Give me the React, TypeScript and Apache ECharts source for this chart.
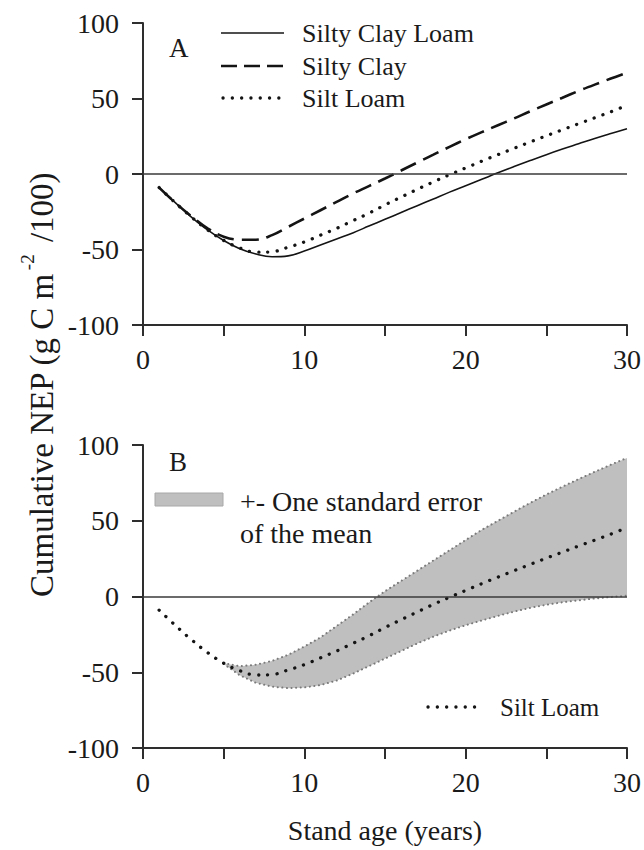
import React, { useEffect, useRef } from "react";
import * as echarts from "echarts";

const years = [1, 2, 3, 4, 5, 6, 7, 8, 9, 10, 11, 12, 13, 14, 15, 16, 17, 18, 19, 20, 21, 22, 23, 24, 25, 26, 27, 28, 29, 30];
const siltyClayLoam = [-9, -19, -28.5, -37, -44, -49.5, -53, -54.8, -54.2, -51, -47, -43, -39, -34.5, -30, -25.5, -21, -16.5, -12, -7.8, -3.5, 0.8, 4.9, 8.9, 12.8, 16.5, 20, 23.5, 26.8, 30];
const siltyClay = [-9, -19, -28, -36, -41.5, -43.5, -43.5, -40.5, -35, -29.5, -24, -18.5, -13, -8, -3, 2.3, 7.6, 12.8, 18, 23, 27.7, 32.3, 36.8, 41.5, 46, 50.5, 55, 59.2, 63.2, 67];
const siltLoam = [-9, -19, -28.5, -37, -44, -49, -51.8, -51.5, -48.5, -45, -40.5, -36, -31, -26, -20.5, -15.3, -10.2, -5.2, -0.5, 4, 8.5, 12.8, 17, 21.2, 25.3, 29.3, 33.3, 37.2, 41.2, 45.5];

const bandYears = [5, 6, 7, 8, 9, 10, 11, 12, 13, 14, 15, 16, 17, 18, 19, 20, 21, 22, 23, 24, 25, 26, 27, 28, 29, 30];
const bandUpper = [-44, -46, -45, -42.5, -38.5, -33, -27, -19.5, -12, -4, 3.5, 10.3, 17, 23.8, 30.5, 37.3, 44, 50, 56, 61.8, 67.3, 72.5, 77.5, 82.3, 87, 91.5];
const bandLower = [-44.5, -52, -57, -59.5, -60.5, -60, -58.5, -55.5, -51, -46, -41, -36, -31, -26.5, -22.5, -19, -15.8, -12.8, -10, -7.5, -5.5, -3.8, -2.5, -1.3, -0.3, 0.5];

const seriesNames = ["Silty Clay Loam", "Silty Clay", "Silt Loam"];
const bandLabel = ["+- One standard error", "of the mean"];
const panelLetters = ["A", "B"];
const xTitle = "Stand age (years)";

const FONT = "Liberation Serif";
const INK = "#141414";
const AXIS = "#2e2e2e";
const TXT = "#1a1a1a";

function pairs(xs: number[], ys: number[]) {
  return xs.map((x, i) => [x, ys[i]]);
}

function label(x: number, y: number, text: string, size: number, align = "left") {
  return {
    type: "text",
    x,
    y,
    style: { text, fontFamily: FONT, fontSize: size, fill: TXT, align, verticalAlign: "middle" },
  };
}

export default function App() {
  const ref = useRef<HTMLDivElement>(null);

  useEffect(() => {
    if (!ref.current) return;
    const chart = echarts.init(ref.current, null, { renderer: "svg" });

    const makeX = (gridIndex: number) => ({
      type: "value",
      gridIndex,
      min: 0,
      max: 30,
      interval: 5,
      axisLine: { onZero: false, lineStyle: { color: AXIS, width: 2 } },
      axisTick: { length: 11, lineStyle: { color: AXIS, width: 2 } },
      axisLabel: {
        margin: 20,
        fontFamily: FONT,
        fontSize: 28,
        color: TXT,
        formatter: (v: number) => (v % 10 === 0 ? String(v) : ""),
      },
      splitLine: { show: false },
    });
    const makeY = (gridIndex: number) => ({
      type: "value",
      gridIndex,
      min: -100,
      max: 100,
      interval: 50,
      axisLine: { show: true, onZero: false, lineStyle: { color: AXIS, width: 2 } },
      axisTick: { show: true, length: 11, lineStyle: { color: AXIS, width: 2 } },
      axisLabel: { margin: 24, fontFamily: FONT, fontSize: 28, color: TXT },
      splitLine: { show: false },
    });

    const zeroLine = {
      silent: true,
      symbol: ["none", "none"],
      label: { show: false },
      lineStyle: { color: "#3a3a3a", width: 1.6, type: "solid" },
      data: [{ yAxis: 0 }],
    };

    const dotted = { color: INK, width: 3.3, type: [0.1, 9.2], cap: "round" };

    const option: any = {
      animation: false,
      textStyle: { fontFamily: FONT },
      grid: [
        { left: 143, top: 23, width: 484, height: 302 },
        { left: 143, top: 445, width: 484, height: 303 },
      ],
      xAxis: [makeX(0), makeX(1)],
      yAxis: [makeY(0), makeY(1)],
      series: [
        {
          type: "line",
          name: seriesNames[0],
          xAxisIndex: 0,
          yAxisIndex: 0,
          data: pairs(years, siltyClayLoam),
          smooth: 0.4,
          showSymbol: false,
          lineStyle: { color: INK, width: 1.6 },
          markLine: zeroLine,
          z: 3,
        },
        {
          type: "line",
          name: seriesNames[1],
          xAxisIndex: 0,
          yAxisIndex: 0,
          data: pairs(years, siltyClay),
          smooth: 0.4,
          showSymbol: false,
          lineStyle: { color: INK, width: 2.6, type: [17, 8] },
          z: 3,
        },
        {
          type: "line",
          name: seriesNames[2],
          xAxisIndex: 0,
          yAxisIndex: 0,
          data: pairs(years, siltLoam),
          smooth: 0.4,
          showSymbol: false,
          lineStyle: dotted,
          z: 3,
        },
        {
          type: "custom",
          xAxisIndex: 1,
          yAxisIndex: 1,
          data: bandYears.map((x, i) => [x, bandUpper[i], bandLower[i]]),
          z: 1,
          renderItem: (params: any, api: any) => {
            if (params.dataIndex !== 0) return null;
            const top = bandYears.map((x, i) => api.coord([x, bandUpper[i]]));
            const bottom = bandYears
              .map((x, i) => api.coord([x, bandLower[i]]))
              .reverse();
            return {
              type: "polygon",
              shape: { points: top.concat(bottom) },
              style: { fill: "#bfbfbf", stroke: "none" },
            };
          },
        },
        {
          type: "line",
          xAxisIndex: 1,
          yAxisIndex: 1,
          data: pairs(bandYears, bandUpper),
          showSymbol: false,
          lineStyle: { color: "#7a7a7a", width: 2, type: [0.1, 4.5], cap: "round" },
          z: 2,
        },
        {
          type: "line",
          xAxisIndex: 1,
          yAxisIndex: 1,
          data: pairs(bandYears, bandLower),
          showSymbol: false,
          lineStyle: { color: "#7a7a7a", width: 2, type: [0.1, 4.5], cap: "round" },
          z: 2,
        },
        {
          type: "line",
          name: seriesNames[2],
          xAxisIndex: 1,
          yAxisIndex: 1,
          data: pairs(years, siltLoam),
          smooth: 0.4,
          showSymbol: false,
          lineStyle: dotted,
          markLine: zeroLine,
          z: 3,
        },
      ],
      graphic: [
        {
          type: "text",
          x: 38,
          y: 385,
          rotation: Math.PI / 2,
          style: {
            text: "{a|Cumulative NEP (g C m}{s|-2}{a| /100)}",
            fontFamily: FONT,
            align: "center",
            verticalAlign: "middle",
            fill: TXT,
            rich: {
              a: { fontFamily: FONT, fontSize: 33, fill: TXT, verticalAlign: "bottom", lineHeight: 40 },
              s: { fontFamily: FONT, fontSize: 19, fill: TXT, verticalAlign: "top", lineHeight: 40, padding: [0, 4, 0, 3] },
            },
          },
        },
        label(385, 830, xTitle, 28, "center"),
        label(169, 48, panelLetters[0], 27),
        label(169, 462, panelLetters[1], 27),
        // Legend A
        { type: "line", shape: { x1: 221, y1: 33, x2: 284, y2: 33 }, style: { stroke: INK, lineWidth: 1.6 } },
        { type: "line", shape: { x1: 221, y1: 66, x2: 284, y2: 66 }, style: { stroke: INK, lineWidth: 2.6, lineDash: [16, 7] } },
        { type: "line", shape: { x1: 223, y1: 98, x2: 284, y2: 98 }, style: { stroke: INK, lineWidth: 3.3, lineDash: [0.1, 9.2], lineCap: "round" } },
        label(302, 33, seriesNames[0], 26),
        label(302, 66, seriesNames[1], 26),
        label(302, 98, seriesNames[2], 26),
        // Legend B
        { type: "rect", shape: { x: 155, y: 493, width: 68, height: 13 }, style: { fill: "#bfbfbf", stroke: "#a8a8a8", lineWidth: 1 } },
        label(240, 501, bandLabel[0], 28),
        label(240, 533, bandLabel[1], 28),
        { type: "line", shape: { x1: 428, y1: 707, x2: 481, y2: 707 }, style: { stroke: INK, lineWidth: 3.3, lineDash: [0.1, 9.2], lineCap: "round" } },
        label(500, 707, seriesNames[2], 25),
      ],
    };

    chart.setOption(option);
    return () => chart.dispose();
  }, []);

  return (
    <div
      ref={ref}
      style={{ position: "fixed", left: 0, top: 0, width: 644, height: 850, background: "#fff" }}
    />
  );
}
